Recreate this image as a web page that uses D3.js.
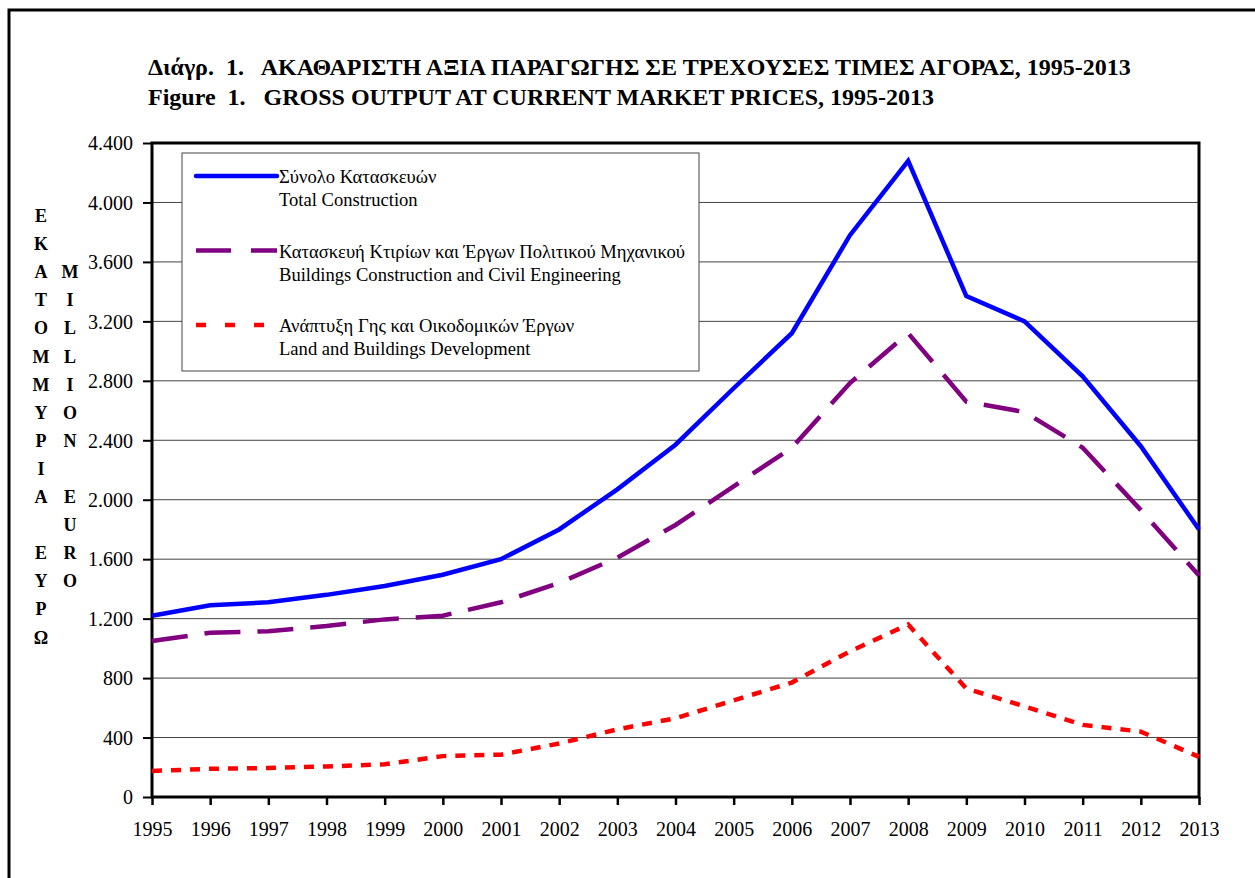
<!DOCTYPE html>
<html>
<head>
<meta charset="utf-8">
<script src="https://cdn.jsdelivr.net/npm/d3@7"></script>
<style>
  body { margin: 0; background: #fff; }
  svg { display: block; font-family: "Liberation Serif", "Times New Roman", serif; }
  .grid line { stroke: #444; stroke-width: 1; }
  .axis text { font-size: 20px; fill: #000; font-family: "Liberation Serif", serif; }
</style>
</head>
<body>
<svg id="chart" width="1255" height="878"></svg>
<script>
// years on the x axis
const years = [1995, 1996, 1997, 1998, 1999, 2000, 2001, 2002, 2003, 2004,
               2005, 2006, 2007, 2008, 2009, 2010, 2011, 2012, 2013];

// million euro
const totalConstruction = [1220, 1290, 1310, 1360, 1420, 1495, 1600, 1800, 2070, 2370,
                           2750, 3120, 3780, 4280, 3370, 3200, 2830, 2360, 1800];
const buildingsCivil = [1050, 1105, 1115, 1150, 1195, 1220, 1310, 1440, 1610, 1830,
                        2090, 2350, 2785, 3120, 2660, 2590, 2350, 1930, 1490];
const landDevelopment = [175, 190, 195, 205, 220, 275, 285, 360, 455, 530,
                         650, 770, 980, 1160, 730, 610, 485, 440, 270];

const yTicks = [0, 400, 800, 1200, 1600, 2000, 2400, 2800, 3200, 3600, 4000, 4400];

const seriesNames = [
  ["Σύνολο Κατασκευών", "Total Construction"],
  ["Κατασκευή Κτιρίων και Έργων Πολιτικού Μηχανικού", "Buildings Construction and Civil Engineering"],
  ["Ανάπτυξη Γης και Οικοδομικών Έργων", "Land and Buildings Development"]
];

const titleLines = [
  "Διάγρ.  1.   ΑΚΑΘΑΡΙΣΤΗ ΑΞΙΑ ΠΑΡΑΓΩΓΗΣ ΣΕ ΤΡΕΧΟΥΣΕΣ ΤΙΜΕΣ ΑΓΟΡΑΣ, 1995-2013",
  "Figure  1.   GROSS OUTPUT AT CURRENT MARKET PRICES, 1995-2013"
];

const yLabelGr = "ΕΚΑΤΟΜΜΥΡΙΑ ΕΥΡΩ";
const yLabelEn = "MILLION EURO";

const svg = d3.select("#chart");

// outer frame
svg.append("rect")
  .attr("x", 9).attr("y", 10).attr("width", 1300).attr("height", 900)
  .attr("fill", "none").attr("stroke", "#000").attr("stroke-width", 3);

// titles
svg.selectAll(".title")
  .data(titleLines)
  .enter().append("text")
  .attr("class", "title")
  .attr("x", 148)
  .attr("y", (d, i) => 75 + i * 30)
  .attr("font-size", "24px")
  .attr("font-weight", "bold")
  .style("white-space", "pre")
  .text(d => d);

const plotLeft = 152, plotRight = 1199, plotTop = 143, plotBottom = 797;

let x = d3.scaleLinear().domain([1995, 2013]).range([plotLeft, plotRight]);
let y = d3.scaleLinear().domain([0, 4400]).range([plotBottom, plotTop]);

let fmt = d => d3.format(",")(d).replace(/,/g, ".");

// gridlines
svg.append("g").attr("class", "grid")
  .selectAll("line")
  .data(yTicks.filter(d => d > 0 && d < 4400))
  .enter().append("line")
  .attr("x1", plotLeft).attr("x2", plotRight)
  .attr("y1", d => y(d)).attr("y2", d => y(d));

// y axis
let yAxis = svg.append("g").attr("class", "axis")
  .attr("transform", `translate(${plotLeft},0)`)
  .call(d3.axisLeft(y).tickValues(yTicks).tickFormat(fmt).tickSize(9).tickPadding(10));
yAxis.select(".domain").remove();
yAxis.selectAll(".tick line").attr("stroke", "#000").attr("stroke-width", 2);
yAxis.selectAll(".tick text").attr("dy", "0.34em");

// x axis
let xAxis = svg.append("g").attr("class", "axis")
  .attr("transform", `translate(0,${plotBottom})`)
  .call(d3.axisBottom(x).tickValues(years).tickFormat(d3.format("d")).tickSize(8).tickPadding(17));
xAxis.select(".domain").remove();
xAxis.selectAll(".tick line").attr("stroke", "#000").attr("stroke-width", 2.5);

// plot frame
svg.append("rect")
  .attr("x", plotLeft).attr("y", plotTop)
  .attr("width", plotRight - plotLeft).attr("height", plotBottom - plotTop)
  .attr("fill", "none").attr("stroke", "#000").attr("stroke-width", 3);

// legend box (drawn over the gridlines)
const lg = svg.append("g");
lg.append("rect")
  .attr("x", 182).attr("y", 153).attr("width", 517).attr("height", 218)
  .attr("fill", "#fff").attr("stroke", "#444").attr("stroke-width", 1);

const styles = [
  { color: "#0000ff", dash: null },
  { color: "#800080", dash: "36,17" },
  { color: "#ff0000", dash: "10,9" }
];
const lineData = [totalConstruction, buildingsCivil, landDevelopment];

let line = d3.line()
  .x((d, i) => x(years[i]))
  .y(d => y(d));

svg.selectAll(".series")
  .data(lineData)
  .enter().append("path")
  .attr("class", "series")
  .attr("d", line)
  .attr("fill", "none")
  .attr("stroke", (d, i) => styles[i].color)
  .attr("stroke-width", 4.5)
  .attr("stroke-dasharray", (d, i) => styles[i].dash);

// legend entries
seriesNames.forEach(function(names, i) {
  let ly = 176 + i * 74.5;
  lg.append("line")
    .attr("x1", 196).attr("x2", 277)
    .attr("y1", ly).attr("y2", ly)
    .attr("stroke", styles[i].color)
    .attr("stroke-width", 4.5)
    .attr("stroke-linecap", i == 0 ? "round" : "butt")
    .attr("stroke-dasharray", i == 1 ? "35,20" : (i == 2 ? "10,19" : null));
  names.forEach(function(t, j) {
    lg.append("text")
      .attr("x", 279)
      .attr("y", ly + 7 + j * 23)
      .attr("font-size", "18.6px")
      .text(t);
  });
});

// vertical y labels, letter by letter
const rowStep = 28.1;
yLabelGr.split("").forEach(function(ch, i) {
  if (ch == " ") return;
  svg.append("text")
    .attr("x", 41).attr("y", 222 + i * rowStep)
    .attr("text-anchor", "middle")
    .attr("font-size", "18px").attr("font-weight", "bold")
    .text(ch);
});
yLabelEn.split("").forEach(function(ch, i) {
  if (ch == " ") return;
  svg.append("text")
    .attr("x", 70).attr("y", 222 + (i + 2) * rowStep)
    .attr("text-anchor", "middle")
    .attr("font-size", "18px").attr("font-weight", "bold")
    .text(ch);
});
</script>
</body>
</html>
